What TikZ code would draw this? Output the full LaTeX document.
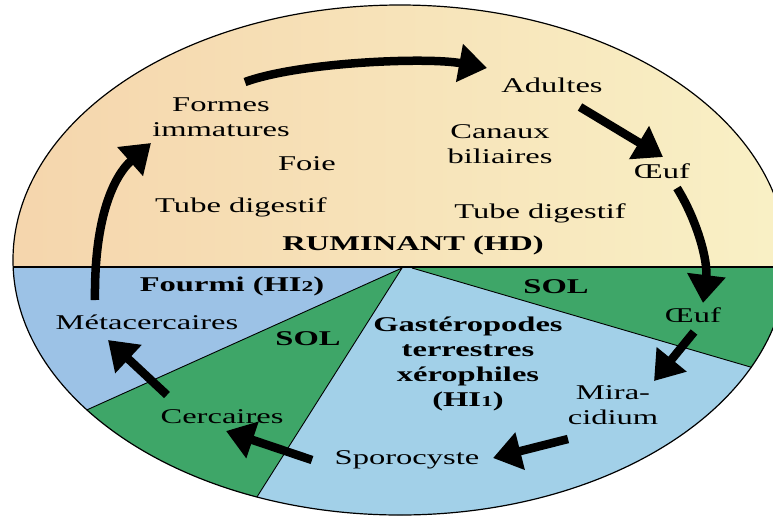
\documentclass[tikz,border=0pt]{standalone}
\usepackage{fontspec}
\setmainfont{Liberation Serif}
\usepackage{graphicx}
\usetikzlibrary{arrows.meta}
\newcommand\sx[1]{\scalebox{1.55}[1]{#1}}
\newcommand\osd[1]{\scalebox{0.72}{#1}}
\definecolor{peach}{RGB}{245,213,172}
\definecolor{paleyel}{RGB}{249,241,198}
\definecolor{antblue}{RGB}{156,194,230}
\definecolor{snailblue}{RGB}{162,208,232}
\definecolor{solgreen}{RGB}{62,166,104}
\begin{document}
\begin{tikzpicture}[x=1pt,y=-1pt,
  lbl/.style={font=\fontsize{21}{25}\selectfont, align=center, inner sep=0pt, text=black},
  blbl/.style={font=\fontsize{21}{25}\selectfont\bfseries, align=center, inner sep=0pt, text=black},
  bigarrow/.style={line width=8.5pt, -{Triangle[length=28pt,width=37pt]}},
  divline/.style={line width=0.9pt, black}]
\useasboundingbox (0,0) rectangle (773,515);
% regions
\begin{scope}
  \clip (400,260) ellipse [x radius=387, y radius=255];
  \shade[left color=peach, right color=paleyel] (0,0) rectangle (800,267);
  \fill[antblue] (0,267) rectangle (800,560);
  \fill[solgreen] (402,268) -- (0,449) -- (0,560) -- (217,560) -- cycle;
  \fill[snailblue] (402,268) -- (217,560) -- (800,560) -- (800,381.5) -- (412,268) -- cycle;
  \fill[solgreen] (412,268) -- (800,381.5) -- (800,267) -- (402,267) -- cycle;
  \draw[divline] (0,449) -- (402,268) -- (217,560);
  \draw[divline] (412,268) -- (800,381.5);
  \draw[line width=1.5pt] (0,267) -- (800,267);
\end{scope}
\draw[line width=1.2pt] (400,260) ellipse [x radius=387, y radius=255];
% labels
\node[lbl] (formes) at (221,117) {\sx{Formes}\\\sx{immatures}};
\node[lbl] (foie) at (307,163.5) {\sx{Foie}};
\node[lbl] (tubeL) at (241,207.5) {\sx{Tube digestif}};
\node[blbl] (rum) at (413,245) {\sx{RUMINANT (HD)}};
\node[lbl] (adultes) at (552,85) {\sx{Adultes}};
\node[lbl] (canaux) at (500,144) {\sx{Canaux}\\\sx{biliaires}};
\node[lbl] (oeuf1) at (662,171.5) {\sx{Œuf}};
\node[lbl] (tubeR) at (540,213) {\sx{Tube digestif}};
\node[blbl] (fourmi) at (232,286) {\sx{Fourmi (HI\osd{2})}};
\node[lbl] (metac) at (147,322) {\sx{Métacercaires}};
\node[blbl] (solL) at (308,338.5) {\sx{SOL}};
\node[lbl] (cerc) at (222,416.5) {\sx{Cercaires}};
\node[lbl] (sporo) at (407,460) {\sx{Sporocyste}};
\node[blbl] (gast) at (468,363.5) {\sx{Gastéropodes}\\\sx{terrestres}\\\sx{xérophiles}\\\sx{(HI\osd{1})}};
\node[blbl] (solR) at (556,286.5) {\sx{SOL}};
\node[lbl] (oeuf2) at (693,315) {\sx{Œuf}};
\node[lbl] (mira) at (613,405) {\sx{Mira-}\\\sx{cidium}};
% cycle arrows
\draw[bigarrow] ([shift={(-52,-22)}]metac.center) .. controls (94,215) and (115,175) .. ([shift={(-70,26)}]formes.center);
\draw[bigarrow] ([shift={(24,-35)}]formes.center) .. controls (300,62) and (427,57) .. ([shift={(-65,-17)}]adultes.center);
\draw[bigarrow] ([shift={(28,22)}]adultes.center) -- ([shift={(1,-14.5)}]oeuf1.center);
\draw[bigarrow] ([shift={(15,16.5)}]oeuf1.center) .. controls (698,222) and (708,262) .. ([shift={(10,-12)}]oeuf2.center);
\draw[bigarrow] ([shift={(1,17)}]oeuf2.center) -- ([shift={(41,-24)}]mira.center);
\draw[bigarrow] ([shift={(-45,34)}]mira.center) -- ([shift={(86,-2)}]sporo.center);
\draw[bigarrow] ([shift={(-95,0)}]sporo.center) -- ([shift={(4,14.5)}]cerc.center);
\draw[bigarrow] ([shift={(-55,-21.5)}]cerc.center) -- ([shift={(-39,18)}]metac.center);
\end{tikzpicture}
\end{document}
